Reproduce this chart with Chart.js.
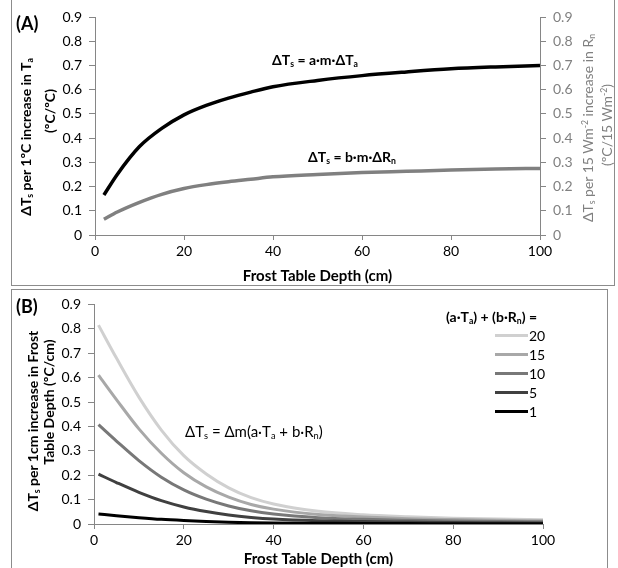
<!DOCTYPE html>
<html>
<head>
<meta charset="utf-8">
<script src="https://cdn.jsdelivr.net/npm/chart.js@4/dist/chart.umd.min.js"></script>
<style>
  html, body { margin: 0; padding: 0; background: #fff; }
  body { width: 618px; height: 568px; position: relative; overflow: hidden;
         font-family: Lato, 'Open Sans', sans-serif; color: #000; }
  .frame { position: absolute; border: 1px solid #8c8c8c; box-sizing: border-box; }
  .box { position: absolute; }
  .txt { position: absolute; white-space: nowrap; line-height: 1; }
  .rot { transform: translate(-50%, -50%) rotate(-90deg); }
  .b { font-weight: bold; }
  sub { font-size: 0.62em; vertical-align: -0.25em; line-height: 0; }
  sup { font-size: 0.62em; vertical-align: 0.55em; line-height: 0; }
  .leg-row { position: absolute; left: 495px; height: 19px; }
  .leg-row i { position: absolute; left: 0; top: 8px; width: 33px; height: 3px; }
  .leg-row span { position: absolute; left: 34px; top: 1px; font-size: 14px; }
</style>
</head>
<body>

<div class="frame" style="left:11px; top:-2px; width:604px; height:288px;"></div>
<div class="frame" style="left:11px; top:289px; width:597px; height:290px;"></div>

<div class="box" style="left:0; top:0; width:618px; height:285px;"><canvas id="chart-a"></canvas></div>
<div class="box" style="left:0; top:289px; width:618px; height:279px;"><canvas id="chart-b"></canvas></div>

<!-- panel A labels -->
<div class="txt b" style="left:16px; top:14px; font-size:18px;">(A)</div>
<div class="txt b rot" style="left:26px; top:137px; font-size:14px;">ΔT<sub>s</sub> per 1ºC increase in T<sub>a</sub></div>
<div class="txt b rot" style="left:50px; top:111px; font-size:14px;">(ºC/ºC)</div>
<div class="txt rot" style="left:588px; top:128px; font-size:14px; color:#808080;">ΔT<sub>s</sub> per 15 Wm<sup>-2</sup> increase in R<sub>n</sub></div>
<div class="txt rot" style="left:607px; top:125px; font-size:14px; color:#808080;">(ºC/15 Wm<sup>-2</sup>)</div>
<div class="txt b" style="left:272px; top:53px; font-size:14px;">ΔT<sub>s</sub> = a·m·ΔT<sub>a</sub></div>
<div class="txt b" style="left:308px; top:150px; font-size:14px;">ΔT<sub>s</sub> = b·m·ΔR<sub>n</sub></div>

<!-- panel B labels -->
<div class="txt b" style="left:16px; top:297px; font-size:18px;">(B)</div>
<div class="txt b rot" style="left:33px; top:421px; font-size:14px;">ΔT<sub>s</sub> per 1cm increase in Frost</div>
<div class="txt b rot" style="left:49px; top:402px; font-size:14px;">Table Depth (ºC/cm)</div>
<div class="txt" style="left:185px; top:424px; font-size:15px;">ΔT<sub>s</sub> = Δm(a·T<sub>a</sub> + b·R<sub>n</sub>)</div>
<div class="txt b" style="left:446px; top:310px; font-size:14px;">(a·T<sub>a</sub>) + (b·R<sub>n</sub>) =</div>
<div id="legend-b"></div>

<script>
// ─── 1. DATA ──────────────────────────────────────────────────────────────────
// Panel A: sensitivity vs frost table depth
const depthA   = [2, 5, 10, 15, 20, 25, 30, 35, 40, 50, 60, 70, 80, 90, 100];
const airA     = [0.165, 0.25, 0.365, 0.44, 0.496, 0.535, 0.565, 0.59, 0.612, 0.638, 0.658, 0.673, 0.686, 0.694, 0.70];
const radA     = [0.065, 0.095, 0.135, 0.168, 0.192, 0.208, 0.22, 0.23, 0.24, 0.25, 0.258, 0.263, 0.268, 0.272, 0.275];

// Panel B: one curve per (a·Ta)+(b·Rn) value
const depthB   = [1, 5, 10, 15, 20, 25, 30, 35, 40, 50, 60, 70, 80, 90, 100];
const sum20    = [0.815, 0.68, 0.52, 0.385, 0.28, 0.205, 0.148, 0.108, 0.082, 0.052, 0.038, 0.03, 0.024, 0.02, 0.017];
const sum15    = [0.61, 0.51, 0.39, 0.29, 0.21, 0.152, 0.11, 0.08, 0.061, 0.039, 0.029, 0.022, 0.018, 0.015, 0.013];
const sum10    = [0.407, 0.34, 0.26, 0.192, 0.14, 0.102, 0.074, 0.054, 0.041, 0.026, 0.019, 0.015, 0.012, 0.01, 0.009];
const sum5     = [0.204, 0.17, 0.13, 0.096, 0.07, 0.051, 0.037, 0.027, 0.02, 0.013, 0.01, 0.008, 0.006, 0.005, 0.004];
const sum1     = [0.041, 0.034, 0.026, 0.019, 0.014, 0.01, 0.007, 0.005, 0.004, 0.003, 0.002, 0.002, 0.001, 0.001, 0.001];

const sumLabels = ['20', '15', '10', '5', '1'];
const sumSeries = [sum20, sum15, sum10, sum5, sum1];
const sumColors = ['#d0d0d0', '#a8a8a8', '#787878', '#404040', '#000000'];

const xTitle = 'Frost Table Depth (cm)';

// ─── 2. HELPERS ───────────────────────────────────────────────────────────────
const FONT = "Lato, 'Open Sans', sans-serif";
const AXIS = '#868686';

const toPoints = (xs, ys) => xs.map((x, i) => ({ x, y: ys[i] }));
const fmt = v => (v === 0 ? '0' : v.toFixed(1));

function xScale(title) {
  return {
    type: 'linear', min: 0, max: 100,
    ticks: { stepSize: 20, color: '#000', padding: 3, font: { family: FONT, size: 14 } },
    grid: { drawOnChartArea: false, tickLength: 5, color: AXIS },
    border: { color: AXIS },
    title: { display: true, text: title, color: '#000', padding: 0,
             font: { family: FONT, size: 15, weight: 'bold' } }
  };
}

function yScale(position, color, width) {
  return {
    position, min: 0, max: 0.9,
    ticks: { stepSize: 0.1, color, padding: 7, callback: fmt, font: { family: FONT, size: 14 } },
    grid: { drawOnChartArea: false, tickLength: 6, color: AXIS },
    border: { color: AXIS },
    afterFit: s => { s.width = width; }
  };
}

// ─── 3. PANEL A ───────────────────────────────────────────────────────────────
new Chart(document.getElementById('chart-a'), {
  type: 'line',
  data: {
    datasets: [
      { data: toPoints(depthA, airA), borderColor: '#000', borderWidth: 3.5, yAxisID: 'y' },
      { data: toPoints(depthA, radA), borderColor: '#808080', borderWidth: 3.5, yAxisID: 'y2' }
    ]
  },
  options: {
    responsive: true,
    maintainAspectRatio: false,
    animation: false,
    layout: { padding: { left: 0, right: 0, top: 17, bottom: 0 } },
    elements: { point: { radius: 0 }, line: { cubicInterpolationMode: 'monotone' } },
    plugins: { legend: { display: false }, tooltip: { enabled: false } },
    scales: {
      x: { ...xScale(xTitle), afterFit: s => { s.height = 50; } },
      y: yScale('left', '#000', 95),
      y2: yScale('right', '#808080', 78)
    }
  }
});

// ─── 4. PANEL B ───────────────────────────────────────────────────────────────
// darkest curve drawn last so it sits on top, like the original
const datasetsB = sumSeries.map((vals, i) => ({
  label: sumLabels[i],
  data: toPoints(depthB, vals),
  borderColor: sumColors[i],
  borderWidth: 3,
  order: sumSeries.length - i
}));

new Chart(document.getElementById('chart-b'), {
  type: 'line',
  data: { datasets: datasetsB },
  options: {
    responsive: true,
    maintainAspectRatio: false,
    animation: false,
    layout: { padding: { left: 0, right: 75, top: 10, bottom: 0 } },
    elements: { point: { radius: 0 }, line: { cubicInterpolationMode: 'monotone' } },
    plugins: { legend: { display: false }, tooltip: { enabled: false } },
    scales: {
      x: { ...xScale(xTitle), afterFit: s => { s.height = 44; } },
      y: yScale('left', '#000', 94)
    }
  }
});

// legend for B, built from the same labels and colours
const legendTops = [326, 345, 364, 383, 402];
document.getElementById('legend-b').innerHTML = sumLabels.map((lab, i) => `
  <div class="leg-row" style="top:${legendTops[i]}px">
    <i style="background:${sumColors[i]}"></i><span>${lab}</span>
  </div>`).join('');
</script>
</body>
</html>
